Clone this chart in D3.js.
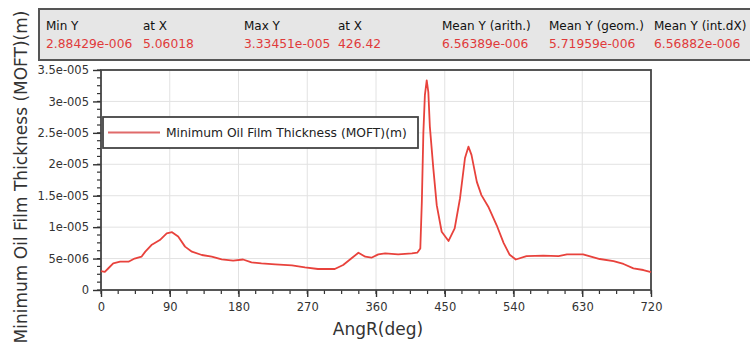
<!DOCTYPE html>
<html>
<head>
<meta charset="utf-8">
<script src="https://cdn.jsdelivr.net/npm/d3@7/dist/d3.min.js"></script>
<style>
  body { margin: 0; background: #fff; }
  text { font-family: "DejaVu Sans", Verdana, sans-serif; }
</style>
</head>
<body>
<div id="chart"></div>
<script>
// crank angle (deg) and minimum oil film thickness (micrometres)
var angR = [0, 5, 10, 16, 25, 36, 44, 53, 58, 66, 77, 86, 93, 101, 110, 119, 132, 145, 158, 173,
    186, 197, 210, 228, 250, 267, 284, 306, 317, 328, 337, 346, 354, 363, 372, 389, 407, 414, 418,
    420, 422, 424, 426.4, 428.5, 430.5, 435, 439.5, 446, 455, 463, 470, 476.5, 481, 485, 492, 498,
    507, 518, 527, 535, 543, 557, 579, 599, 610, 631, 653, 671, 684, 697, 710, 720];
var moftUm = [3.0, 2.88, 3.5, 4.25, 4.5, 4.5, 5.0, 5.3, 6.1, 7.15, 7.95, 9.0, 9.2, 8.5, 6.9, 6.1,
    5.57, 5.3, 4.88, 4.66, 4.85, 4.4, 4.24, 4.08, 3.92, 3.6, 3.34, 3.34, 3.98, 5.04, 5.93, 5.3,
    5.14, 5.67, 5.83, 5.67, 5.83, 5.93, 6.6, 14, 25, 31, 33.35, 31.5, 26, 19.4, 13.5, 9.27, 7.8,
    9.8, 14.6, 21.0, 22.8, 21.5, 17.2, 15.1, 13.25, 10.3, 7.5, 5.6, 4.85, 5.4, 5.46, 5.4, 5.67,
    5.67, 4.93, 4.6, 4.14, 3.45, 3.18, 2.85];
var xTicks = [0, 90, 180, 270, 360, 450, 540, 630, 720];
var yTicks = [0, 5e-6, 1e-5, 1.5e-5, 2e-5, 2.5e-5, 3e-5, 3.5e-5];
var statNames = ["Min Y", "at X", "Max Y", "at X", "Mean Y (arith.)", "Mean Y (geom.)", "Mean Y (int.dX)"];
var statValues = ["2.88429e-006", "5.06018", "3.33451e-005", "426.42", "6.56389e-006", "5.71959e-006", "6.56882e-006"];
var seriesName = "Minimum Oil Film Thickness (MOFT)(m)";

var data = angR.map(function(a, i) { return {x: a, y: moftUm[i] * 1e-6}; });

var W = 750, H = 347;
var pL = 101, pR = 651, pT = 70, pB = 290;
var red = "#e8423c";

var svg = d3.select("#chart").append("svg")
    .attr("width", W)
    .attr("height", H);

var x = d3.scaleLinear().domain([0, 720]).range([pL, pR]);
var y = d3.scaleLinear().domain([0, 3.5e-5]).range([pB, pT]);

function sciFmt(v) {
    if (v === 0) return "0";
    var s = v.toExponential().split("e");
    var e = parseInt(s[1], 10);
    var sign = e < 0 ? "-" : "+";
    return s[0] + "e" + sign + ("000" + Math.abs(e)).slice(-3);
}

// grid
svg.append("g").selectAll("line").data(xTicks.slice(1, -1)).enter().append("line")
    .attr("x1", function(d) { return x(d); }).attr("x2", function(d) { return x(d); })
    .attr("y1", pT).attr("y2", pB)
    .attr("stroke", "#e2e2e2").attr("stroke-width", 1);
svg.append("g").selectAll("line").data(yTicks.slice(1, -1)).enter().append("line")
    .attr("x1", pL).attr("x2", pR)
    .attr("y1", function(d) { return y(d); }).attr("y2", function(d) { return y(d); })
    .attr("stroke", "#e2e2e2").attr("stroke-width", 1);

// minor ticks
svg.append("g").selectAll("line").data(d3.range(0, 720.1, 22.5)).enter().append("line")
    .attr("x1", function(d) { return x(d); }).attr("x2", function(d) { return x(d); })
    .attr("y1", pB).attr("y2", pB + 4)
    .attr("stroke", "#333").attr("stroke-width", 1.2);
svg.append("g").selectAll("line").data(d3.range(0, 3.5e-5 + 1e-9, 1.25e-6)).enter().append("line")
    .attr("x1", pL - 4).attr("x2", pL)
    .attr("y1", function(d) { return y(d); }).attr("y2", function(d) { return y(d); })
    .attr("stroke", "#333").attr("stroke-width", 1.2);

// axes
var xAxis = svg.append("g")
    .attr("transform", "translate(0," + pB + ")")
    .call(d3.axisBottom(x).tickValues(xTicks).tickSize(7).tickPadding(6).tickFormat(d3.format("d")));
var yAxis = svg.append("g")
    .attr("transform", "translate(" + pL + ",0)")
    .call(d3.axisLeft(y).tickValues(yTicks).tickSize(8).tickPadding(4).tickFormat(sciFmt));
[xAxis, yAxis].forEach(function(a) {
    a.select(".domain").remove();
    a.selectAll("line").attr("stroke", "#333").attr("stroke-width", 1.4);
    a.selectAll("text").attr("fill", "#333").style("font-size", "11.5px")
        .style("font-family", "DejaVu Sans, Verdana, sans-serif");
});

// frame
svg.append("rect")
    .attr("x", pL).attr("y", pT)
    .attr("width", pR - pL).attr("height", pB - pT)
    .attr("fill", "none").attr("stroke", "#444").attr("stroke-width", 1.8);

// series
svg.append("path")
    .datum(data)
    .attr("fill", "none")
    .attr("stroke", red)
    .attr("stroke-width", 1.8)
    .attr("stroke-linejoin", "round")
    .attr("d", d3.line().x(function(d) { return x(d.x); }).y(function(d) { return y(d.y); }));

// legend
var lg = svg.append("g");
lg.append("rect").attr("x", 103).attr("y", 117).attr("width", 315).attr("height", 31)
    .attr("fill", "#fff").attr("stroke", "#444").attr("stroke-width", 1.8);
lg.append("line").attr("x1", 108).attr("x2", 160).attr("y1", 132.5).attr("y2", 132.5)
    .attr("stroke", "#e06a6a").attr("stroke-width", 2);
lg.append("text").attr("x", 166).attr("y", 137).text(seriesName)
    .style("font-size", "12.3px").attr("fill", "#222");

// stats box
var sb = svg.append("g");
sb.append("rect").attr("x", 39).attr("y", 9).attr("width", 730).attr("height", 51)
    .attr("fill", "#e6e6e6").attr("stroke", "#555").attr("stroke-width", 2);
var colX = [46, 143, 244, 338, 442, 549, 654];
sb.selectAll(".sn").data(statNames).enter().append("text")
    .attr("class", "sn")
    .attr("x", function(d, i) { return colX[i]; }).attr("y", 29.5)
    .text(function(d) { return d; })
    .style("font-size", "12px").attr("fill", "#111");
sb.selectAll(".sv").data(statValues).enter().append("text")
    .attr("class", "sv")
    .attr("x", function(d, i) { return colX[i]; }).attr("y", 47.5)
    .text(function(d) { return d; })
    .style("font-size", "12.3px").attr("fill", "#e03a3a");

// axis titles
svg.append("text")
    .attr("x", 378).attr("y", 335)
    .attr("text-anchor", "middle")
    .style("font-size", "17px").attr("fill", "#333")
    .text("AngR(deg)");
svg.append("text")
    .attr("transform", "translate(27,177) rotate(-90)")
    .attr("text-anchor", "middle")
    .style("font-size", "17px").attr("fill", "#333")
    .text(seriesName);
</script>
</body>
</html>
